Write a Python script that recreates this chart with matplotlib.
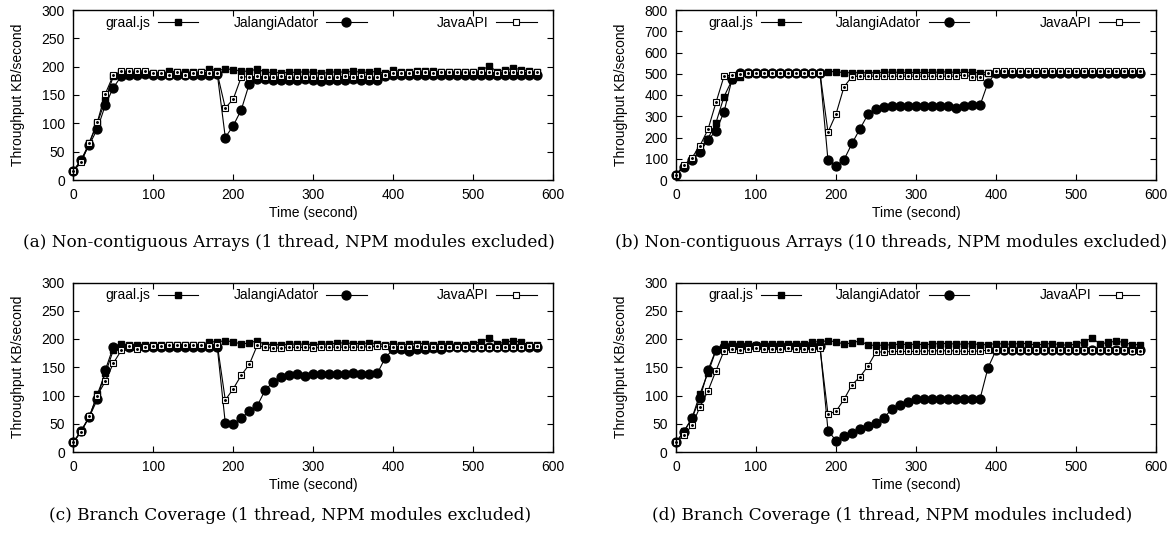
import matplotlib
matplotlib.use("Agg")
import matplotlib.pyplot as plt
from matplotlib.lines import Line2D
from matplotlib.legend import Legend

# ---------------- data ----------------
time_s = [0, 10, 20, 30, 40, 50, 60, 70, 80, 90, 100, 110, 120, 130, 140, 150, 160, 170, 180,
          190, 200, 210, 220, 230, 240, 250, 260, 270, 280, 290, 300, 310, 320, 330, 340, 350,
          360, 370, 380, 390, 400, 410, 420, 430, 440, 450, 460, 470, 480, 490, 500, 510, 520,
          530, 540, 550, 560, 570, 580]

series_names = ["graal.js", "JalangiAdator", "JavaAPI"]

# (a) Non-contiguous Arrays, 1 thread, NPM excluded
graal_a = [16, 36, 65, 100, 141, 183, 191, 190, 190, 189, 188, 188, 192, 191, 190, 191, 190, 196, 193,
           196, 195, 192, 192, 196, 190, 190, 189, 190, 190, 191, 190, 188, 190, 191, 190, 192, 190, 190, 192,
           188, 194, 191, 190, 192, 192, 192, 191, 191, 191, 190, 190, 194, 201, 191, 194, 197, 195, 192, 190]
jal_a = [16, 35, 62, 90, 132, 163, 183, 186, 185, 187, 185, 185, 186, 185, 185, 185, 186, 185, 187,
         75, 96, 124, 170, 178, 178, 177, 176, 177, 177, 178, 176, 174, 177, 177, 176, 178, 177, 177, 176,
         183, 186, 185, 186, 186, 185, 186, 186, 186, 186, 186, 186, 186, 186, 186, 186, 186, 186, 186, 186]
java_a = [16, 31, 66, 102, 152, 185, 192, 192, 192, 193, 188, 189, 186, 190, 186, 188, 190, 188, 188,
          127, 143, 182, 182, 183, 182, 181, 183, 182, 182, 182, 181, 182, 182, 182, 183, 182, 183, 182, 182,
          186, 189, 189, 189, 190, 190, 189, 190, 190, 190, 190, 190, 190, 190, 189, 190, 190, 190, 190, 191]

# (b) Non-contiguous Arrays, 10 threads, NPM excluded
graal_b = [25, 65, 95, 140, 195, 270, 392, 470, 483, 500, 502, 503, 502, 503, 502, 503, 502, 503, 505,
           510, 510, 505, 505, 505, 505, 505, 507, 508, 506, 506, 506, 506, 506, 508, 509, 506, 506, 506, 505,
           505, 505, 505, 505, 505, 505, 505, 505, 505, 505, 505, 505, 505, 505, 505, 505, 505, 505, 505, 505]
jal_b = [25, 60, 92, 130, 190, 230, 320, 475, 505, 505, 505, 505, 505, 505, 505, 505, 505, 505, 505,
         92, 65, 95, 172, 241, 309, 336, 345, 350, 350, 350, 350, 350, 350, 350, 350, 340, 348, 351, 351,
         458, 505, 505, 505, 505, 505, 505, 505, 505, 505, 505, 505, 505, 505, 505, 505, 505, 505, 505, 505]
java_b = [25, 70, 105, 162, 238, 365, 488, 495, 500, 503, 503, 503, 503, 503, 503, 503, 503, 503, 503,
          225, 310, 438, 487, 488, 488, 488, 488, 488, 488, 488, 488, 488, 488, 488, 488, 488, 495, 485, 485,
          505, 512, 512, 512, 512, 512, 512, 512, 512, 512, 512, 512, 512, 512, 512, 512, 512, 512, 512, 512]

# (c) Branch Coverage, 1 thread, NPM excluded
graal_c = [17, 38, 62, 102, 139, 180, 191, 190, 190, 190, 189, 190, 190, 190, 190, 190, 190, 195, 195,
           197, 195, 191, 193, 197, 190, 190, 190, 191, 191, 191, 190, 191, 191, 193, 193, 192, 192, 193, 192,
           190, 192, 190, 191, 192, 192, 190, 191, 192, 190, 190, 192, 195, 202, 192, 194, 197, 194, 190, 190]
jal_c = [17, 38, 62, 93, 145, 186, 185, 185, 185, 185, 185, 185, 185, 185, 185, 185, 185, 185, 185,
         51, 50, 60, 72, 82, 110, 124, 133, 137, 138, 134, 138, 138, 138, 138, 138, 139, 138, 138, 139,
         167, 182, 182, 179, 182, 182, 184, 182, 185, 185, 186, 186, 185, 186, 186, 186, 186, 186, 186, 186]
java_c = [17, 36, 63, 100, 125, 157, 180, 188, 183, 185, 188, 187, 189, 190, 189, 190, 189, 188, 190,
          92, 112, 136, 155, 189, 185, 184, 184, 185, 185, 185, 184, 185, 186, 185, 186, 185, 186, 186, 187,
          187, 186, 186, 186, 187, 186, 186, 186, 186, 186, 186, 186, 186, 185, 186, 186, 185, 186, 187, 187]

# (d) Branch Coverage, 1 thread, NPM included
graal_d = [17, 37, 60, 103, 140, 180, 191, 191, 191, 191, 190, 191, 191, 191, 191, 191, 191, 195, 195,
           197, 195, 191, 193, 197, 189, 189, 189, 190, 191, 190, 191, 190, 191, 192, 192, 191, 191, 192, 190,
           190, 192, 191, 191, 192, 192, 189, 191, 192, 190, 189, 191, 195, 202, 191, 194, 196, 194, 190, 190]
jal_d = [17, 36, 60, 95, 145, 181, 185, 188, 188, 188, 188, 188, 188, 188, 188, 188, 188, 188, 188,
         38, 20, 28, 34, 40, 46, 52, 61, 76, 83, 89, 93, 93, 94, 94, 94, 94, 94, 94, 94,
         149, 180, 180, 181, 181, 181, 181, 180, 181, 181, 181, 181, 181, 181, 181, 181, 181, 181, 180, 180]
java_d = [17, 30, 47, 80, 108, 144, 179, 182, 181, 183, 184, 182, 182, 182, 184, 183, 182, 183, 184,
          67, 72, 93, 119, 133, 152, 177, 177, 178, 178, 178, 178, 179, 179, 179, 179, 179, 178, 178, 179,
          180, 180, 180, 180, 180, 180, 180, 180, 180, 180, 180, 180, 180, 180, 180, 180, 180, 180, 179, 178]

captions = ["(a) Non-contiguous Arrays (1 thread, NPM modules excluded)",
            "(b) Non-contiguous Arrays (10 threads, NPM modules excluded)",
            "(c) Branch Coverage (1 thread, NPM modules excluded)",
            "(d) Branch Coverage (1 thread, NPM modules included)"]
y_limits = [300, 800, 300, 300]
y_steps = [50, 100, 50, 50]
x_label = "Time (second)"
y_label = "Throughput KB/second"

panels = [(graal_a, jal_a, java_a), (graal_b, jal_b, java_b),
          (graal_c, jal_c, java_c), (graal_d, jal_d, java_d)]

# ---------------- drawing ----------------
plt.rcParams['font.family'] = ['Liberation Sans', 'DejaVu Sans']
W, H = 1175, 537
fig = plt.figure(figsize=(W / 100, H / 100), dpi=100)

ax_px = [(73.3, 10, 480, 170), (676, 10, 480, 170),
         (73.3, 282.5, 480, 169.5), (676, 282.5, 480, 169.5)]
caption_pos = [(289, 242), (891, 242), (290, 515), (892, 515)]

styles = [dict(marker='s', markersize=5.0, markerfacecolor='black', markeredgecolor='black'),
          dict(marker='o', markersize=6.4, markerfacecolor='black', markeredgecolor='black'),
          dict(marker='s', markersize=5.0, markerfacecolor='white', markeredgecolor='black',
               markeredgewidth=0.8)]
legend_x = [0.26, 0.611, 0.965]

for i, (data, (lx, ty, w, h)) in enumerate(zip(panels, ax_px)):
    ax = fig.add_axes([lx / W, 1 - (ty + h) / H, w / W, h / H])
    for j, (vals, st) in enumerate(zip(data, styles)):
        ax.plot(time_s, vals, color='black', linewidth=0.8, zorder=2 + j, clip_on=False, **st)
        if j == 2:
            ax.plot(time_s, vals, linestyle='none', marker='o', markersize=1.1,
                    color='black', zorder=2 + j, clip_on=False)
    ax.set_xlim(0, 600)
    ax.set_ylim(0, y_limits[i])
    ax.set_xticks(range(0, 601, 100))
    ax.set_yticks(range(0, y_limits[i] + 1, y_steps[i]))
    ax.tick_params(direction='in', top=True, right=True, length=4, width=0.8,
                   labelsize=10, pad=6, colors='black')
    for sp in ax.spines.values():
        sp.set_linewidth(1.0)
        sp.set_zorder(10)
    ax.set_xlabel(x_label, fontsize=10)
    ax.set_ylabel(y_label, fontsize=10)
    ax.xaxis.set_label_coords(0.5, -0.155)
    ax.yaxis.set_label_coords(-0.100, 0.5)
    for k, name in enumerate(series_names):
        leg_h = Line2D([], [], color='black', linewidth=0.8, **styles[k])
        leg = Legend(ax, [leg_h], [name], loc='center right', bbox_to_anchor=(legend_x[k], 0.924),
                     frameon=False, markerfirst=False, handlelength=2.9, handletextpad=0.55,
                     borderpad=0, borderaxespad=0, fontsize=10, numpoints=1)
        ax.add_artist(leg)
    cx, cy = caption_pos[i]
    fig.text(cx / W, 1 - cy / H, captions[i], ha='center', va='center',
             fontsize=12.2, family=['DejaVu Serif'])

fig.savefig("out.png", dpi=100)
